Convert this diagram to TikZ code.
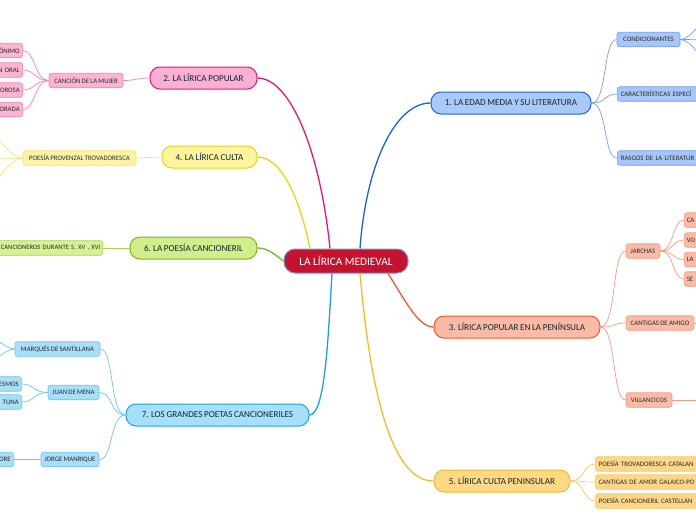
\documentclass[tikz,border=0pt]{standalone}
\usepackage{fontspec}
\setmainfont{Carlito}
\newcommand\tightsp{\spaceskip=0.18em\relax}
\definecolor{cred}{RGB}{196,18,47}
\definecolor{cedge}{RGB}{110,150,210}
\definecolor{tdark}{RGB}{18,38,50}
\definecolor{sdark}{RGB}{40,40,40}
% blue
\definecolor{bL}{RGB}{28,98,214}\definecolor{bF}{RGB}{169,201,249}\definecolor{bS}{RGB}{110,160,236}\definecolor{bSF}{RGB}{166,198,247}
% magenta
\definecolor{mL}{RGB}{232,21,123}\definecolor{mF}{RGB}{250,176,208}\definecolor{mS}{RGB}{244,128,178}\definecolor{mSF}{RGB}{251,180,210}
% yellow (4)
\definecolor{yL}{RGB}{232,211,23}\definecolor{yF}{RGB}{253,244,160}\definecolor{yS}{RGB}{243,227,106}\definecolor{ySF}{RGB}{253,243,166}
% green
\definecolor{gL}{RGB}{122,181,29}\definecolor{gF}{RGB}{210,238,139}\definecolor{gS}{RGB}{169,212,74}\definecolor{gSF}{RGB}{216,240,149}
% cyan
\definecolor{cL}{RGB}{30,160,224}\definecolor{cF}{RGB}{166,224,248}\definecolor{cS}{RGB}{110,195,238}\definecolor{cSF}{RGB}{168,222,248}
% orange (3)
\definecolor{oL}{RGB}{240,87,42}\definecolor{oF}{RGB}{249,187,168}\definecolor{oS}{RGB}{245,154,126}\definecolor{oSF}{RGB}{249,187,168}
% orange-yellow (5)
\definecolor{aL}{RGB}{248,182,43}\definecolor{aF}{RGB}{253,217,133}\definecolor{aS}{RGB}{249,200,96}\definecolor{aSF}{RGB}{253,214,138}
\begin{document}
\begin{tikzpicture}[x=1pt,y=-1pt,
  centerbox/.style={draw=cedge, fill=cred, text=white, rounded corners=11pt, line width=1pt,
     minimum width=124pt, minimum height=24pt, inner sep=0pt, font=\fontsize{11.3}{12}\selectfont},
  topic/.style={draw, rounded corners=10pt, line width=1pt, minimum height=22pt, inner sep=0pt,
     text=tdark, font=\fontsize{9.1}{10}\selectfont\tightsp},
  sub/.style={draw, rounded corners=2.5pt, line width=0.6pt, minimum height=14.5pt, inner sep=0pt,
     text=sdark, font=\fontsize{6.8}{7.5}\selectfont\tightsp},
  cutL/.style={sub, anchor=east, text width=#1, align=right, inner xsep=3pt},
  cutR/.style={sub, anchor=west, text width=#1, align=left, inner xsep=3.5pt},
  mainline/.style={line width=1.3pt},
  subline/.style={line width=0.7pt}]
\useasboundingbox (0,0) rectangle (696,520);
\clip (0,0) rectangle (696,520);

% ---------- nodes ----------
\node[centerbox] (c) at (346,261) {LA LÍRICA MEDIEVAL};

\node[topic, draw=bL, fill=bF, minimum width=160pt] (t1) at (511,103) {1. LA EDAD MEDIA Y SU LITERATURA};
\node[topic, draw=oL, fill=oF, minimum width=166pt] (t3) at (517,327) {3. LÍRICA POPULAR EN LA PENÍNSULA};
\node[topic, draw=aL, fill=aF, minimum width=136pt] (t5) at (502,481) {5. LÍRICA CULTA PENINSULAR};
\node[topic, draw=mL, fill=mF, minimum width=107pt] (t2) at (203.5,78) {2. LA LÍRICA POPULAR};
\node[topic, draw=yL, fill=yF, minimum width=95pt] (t4) at (209.5,157) {4. LA LÍRICA CULTA};
\node[topic, draw=gL, fill=gF, minimum width=127pt] (t6) at (193.5,248) {6. LA POESÍA CANCIONERIL};
\node[topic, draw=cL, fill=cF, minimum width=183pt] (t7) at (217.5,415) {7. LOS GRANDES POETAS CANCIONERILES};

% subtopics of 1
\node[sub, draw=bS, fill=bSF, minimum width=63pt] (s11) at (648.5,39.5) {CONDICIONANTES};
\node[cutR=120pt, draw=bS, fill=bSF] (s12) at (617,94) {CARACTERÍSTICAS ESPECÍ};
\node[cutR=120pt, draw=bS, fill=bSF] (s13) at (617,158) {RASGOS DE LA LITERATUR};
\coordinate (cc1) at (714,16);
\coordinate (cc2) at (714,40);
\coordinate (cc3) at (714,64);

% subtopics of 3
\node[sub, draw=oS, fill=oSF, minimum width=34pt] (s31) at (643,251) {JARCHAS};
\node[cutR=40pt, draw=oS, fill=oSF, inner xsep=2.5pt] (j1) at (684,220) {CA};
\node[cutR=40pt, draw=oS, fill=oSF, inner xsep=2.5pt] (j2) at (684,240) {VO};
\node[cutR=40pt, draw=oS, fill=oSF, inner xsep=2.5pt] (j3) at (684,259.5) {LA};
\node[cutR=40pt, draw=oS, fill=oSF, inner xsep=2.5pt] (j4) at (684,279) {SE};
\node[sub, draw=oS, fill=oSF, minimum width=68pt] (s32) at (660,323) {CANTIGAS DE AMIGO};
\node[sub, draw=oS, fill=oSF, minimum width=46pt] (s33) at (649,400) {VILLANCICOS};
\coordinate (v1) at (714,323);
\coordinate (v2) at (714,400);

% subtopics of 5
\node[cutR=140pt, draw=aS, fill=aSF] (s51) at (595,464) {POESÍA TROVADORESCA CATALAN};
\node[cutR=140pt, draw=aS, fill=aSF] (s52) at (595,482) {CANTIGAS DE AMOR GALAICO-PO};
\node[cutR=140pt, draw=aS, fill=aSF] (s53) at (595,501) {POESÍA CANCIONERIL CASTELLAN};

% subtopics of 2
\node[sub, draw=mS, fill=mSF, minimum width=74pt] (s21) at (86,80.5) {CANCIÓN DE LA MUJER};
\node[cutL=50pt, draw=mS, fill=mSF] (m1) at (23,50.5) {ÓNIMO};
\node[cutL=50pt, draw=mS, fill=mSF] (m2) at (23,70) {N ORAL};
\node[cutL=50pt, draw=mS, fill=mSF] (m3) at (23,90) {OROSA};
\node[cutL=50pt, draw=mS, fill=mSF] (m4) at (23,109.5) {ORADA};

% subtopic of 4
\node[sub, draw=yS, fill=ySF, minimum width=113pt] (s41) at (79.5,158) {POESÍA PROVENZAL TROVADORESCA};
\coordinate (p1) at (-22,124);
\coordinate (p2) at (-22,158);
\coordinate (p3) at (-22,194);

% subtopic of 6
\node[cutL=130pt, draw=gS, fill=gSF, inner xsep=2.5pt, font=\fontsize{6.6}{7.5}\selectfont\tightsp] (s61) at (103,248) {CANCIONEROS DURANTE S. XV , XVI};

% subtopics of 7
\node[sub, draw=cS, fill=cSF, minimum width=85pt] (s71) at (57.5,349) {MARQUÉS DE SANTILLANA};
\coordinate (q1) at (-22,330);
\coordinate (q2) at (-22,368);
\node[sub, draw=cS, fill=cSF, minimum width=51pt] (s72) at (73.5,392.5) {JUAN DE MENA};
\node[cutL=50pt, draw=cS, fill=cSF] (k1) at (22,384) {ESMOS};
\node[cutL=50pt, draw=cS, fill=cSF] (k2) at (22,402) {TUNA};
\node[sub, draw=cS, fill=cSF, minimum width=58pt] (s73) at (70,459.5) {JORGE MANRIQUE};
\node[cutL=50pt, draw=cS, fill=cSF] (k3) at (14,459.5) {ORE};

% ---------- main connectors ----------
\draw[mainline, bL] ([xshift=14pt]c.north) .. controls (366,165) and (395,103) .. (t1.west);
\draw[mainline, oL] ([xshift=42pt]c.south) .. controls (405,300) and (418,327) .. (t3.west);
\draw[mainline, aL] ([xshift=14pt]c.south) .. controls (372,410) and (396,481) .. (t5.west);
\draw[mainline, mL] ([xshift=-16pt]c.north) .. controls (320,150) and (290,78) .. (t2.east);
\draw[mainline, yL] ([xshift=-36pt]c.north) .. controls (300,200) and (282,157) .. (t4.east);
\draw[mainline, gL] (c.west) .. controls (272,252) and (266,248) .. (t6.east);
\draw[mainline, cL] ([xshift=-14pt]c.south) .. controls (328,340) and (325,415) .. (t7.east);

% ---------- sub connectors ----------
\foreach \s in {s11,s12,s13}
  \draw[subline, bS] (t1.east) .. controls +(16,0) and +(-14,0) .. (\s.west);
\foreach \s in {cc1,cc2,cc3}
  \draw[subline, bS] (s11.east) .. controls +(12,0) and +(-12,0) .. (\s);

\foreach \s in {s31,s32,s33}
  \draw[subline, oS] (t3.east) .. controls +(16,0) and +(-14,0) .. (\s.west);
\foreach \s in {j1,j2,j3,j4}
  \draw[subline, oS] (s31.east) .. controls +(14,0) and +(-12,0) .. (\s.west);
\draw[subline, oS] (s32.east) -- (v1);
\draw[subline, oS] (s33.east) -- (v2);

\foreach \s in {s51,s52,s53}
  \draw[subline, aS] (t5.east) .. controls +(14,0) and +(-12,0) .. (\s.west);

\draw[subline, mS] (t2.west) .. controls +(-12,0) and +(12,0) .. (s21.east);
\foreach \s in {m1,m2,m3,m4}
  \draw[subline, mS] (s21.west) .. controls +(-14,0) and +(12,0) .. (\s.east);

\draw[subline, yS] (t4.west) -- (s41.east);
\foreach \s in {p1,p2,p3}
  \draw[subline, yS] (s41.west) .. controls +(-14,0) and +(12,0) .. (\s);

\draw[subline, gS] (t6.west) -- (s61.east);

\foreach \s in {s71,s72,s73}
  \draw[subline, cS] (t7.west) .. controls +(-16,0) and +(14,0) .. (\s.east);
\foreach \s in {q1,q2}
  \draw[subline, cS] (s71.west) .. controls +(-12,0) and +(12,0) .. (\s);
\foreach \s in {k1,k2}
  \draw[subline, cS] (s72.west) .. controls +(-14,0) and +(12,0) .. (\s.east);
\draw[subline, cS] (s73.west) -- (k3.east);
\end{tikzpicture}
\end{document}
